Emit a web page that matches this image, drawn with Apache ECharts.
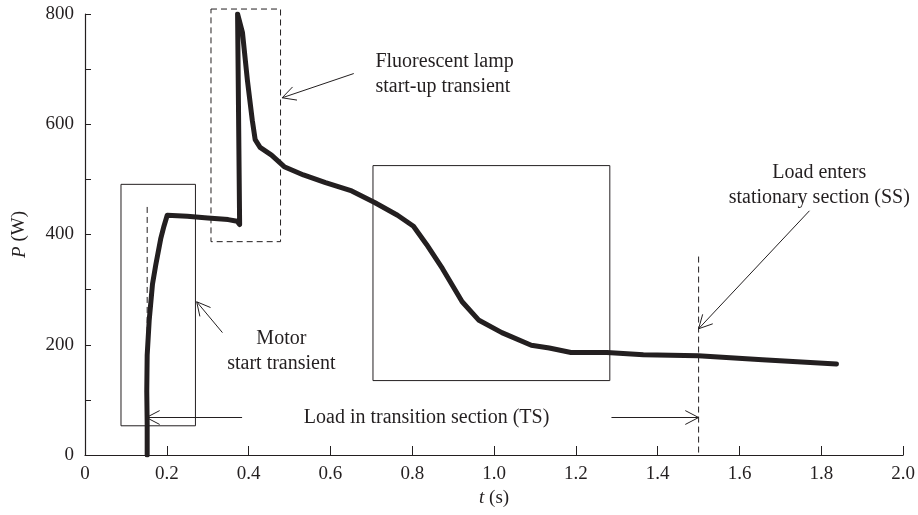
<!DOCTYPE html>
<html>
<head>
<meta charset="utf-8">
<script src="https://cdn.jsdelivr.net/npm/echarts@6.0.0/dist/echarts.min.js"></script>
<style>
  html, body { margin: 0; padding: 0; background: #fff; }
  #main { width: 918px; height: 515px; }
</style>
</head>
<body>
<div id="main"></div>
<script>
// time (s) and power (W)
var tData = [0.152, 0.152, 0.151, 0.152, 0.157, 0.165, 0.173, 0.185, 0.193, 0.201,
             0.25, 0.30, 0.35, 0.372, 0.378, 0.373, 0.385, 0.397, 0.409, 0.416,
             0.428, 0.456, 0.487, 0.534, 0.588, 0.652, 0.708, 0.764, 0.803, 0.835,
             0.874, 0.922, 0.962, 1.019, 1.091, 1.135, 1.188, 1.276, 1.365, 1.499,
             1.656, 1.837];
var pData = [0, 56, 115, 181, 245, 310, 345, 392, 415, 435,
             433, 430, 427, 424, 418, 800, 766, 680, 607, 572,
             558, 544, 523, 508, 494, 479, 458, 435, 415, 382,
             338, 278, 245, 222, 199, 194, 186, 186, 182, 180,
             173, 165];

// annotation boxes [t1, p1, t2, p2] and dashed markers [t, pTop, pBottom]
var motorBox = [0.088, 491, 0.270, 53];
var lampBox = [0.308, 809, 0.478, 387];
var slopeBox = [0.704, 525, 1.283, 135];
var startLine = [0.152, 450, 0];
var ssLine = [1.5, 360, 0];

var ink = '#231f20';
var serif = '"Liberation Serif", "DejaVu Serif", serif';

var points = [];
for (var i = 0; i < tData.length; i++) points.push([tData[i], pData[i]]);

var chart = echarts.init(document.getElementById('main'));

chart.setOption({
  animation: false,
  backgroundColor: '#fff',
  grid: { left: 85, right: 13, top: 14, bottom: 60 },
  xAxis: {
    type: 'value', min: 0, max: 2, interval: 0.2,
    name: '{i|t} (s)', nameLocation: 'middle', nameGap: 30,
    nameTextStyle: { fontFamily: serif, fontSize: 19, color: ink,
      rich: { i: { fontFamily: serif, fontSize: 19, fontStyle: 'italic', color: ink } } },
    axisLine: { lineStyle: { color: ink, width: 1.2 } },
    axisTick: { inside: true, length: 9, lineStyle: { color: ink } },
    axisLabel: { margin: 10, fontFamily: serif, fontSize: 19, color: ink,
      formatter: function (v) { return v === 0 ? '0' : v.toFixed(1); } },
    splitLine: { show: false }
  },
  yAxis: {
    type: 'value', min: 0, max: 800, interval: 200,
    name: '{i|P} (W)', nameLocation: 'middle', nameGap: 56,
    nameTextStyle: { fontFamily: serif, fontSize: 19, color: ink,
      rich: { i: { fontFamily: serif, fontSize: 19, fontStyle: 'italic', color: ink } } },
    axisLine: { show: true, lineStyle: { color: ink, width: 1.2 } },
    axisTick: { show: true, inside: true, length: 6, lineStyle: { color: ink } },
    minorTick: { show: true, splitNumber: 2, length: 6, lineStyle: { color: ink } },
    axisLabel: { margin: 11, fontFamily: serif, fontSize: 19, color: ink },
    splitLine: { show: false }
  },
  series: [{
    type: 'line',
    data: points,
    showSymbol: false,
    smooth: false,
    lineStyle: { color: ink, width: 5, join: 'round', cap: 'round' },
    z: 5
  }]
});

function px(t, p) { return chart.convertToPixel('grid', [t, p]); }

function box(b, dashed) {
  var a = px(b[0], b[1]), c = px(b[2], b[3]);
  return {
    type: 'rect',
    shape: { x: a[0], y: a[1], width: c[0] - a[0], height: c[1] - a[1] },
    style: { fill: null, stroke: ink, lineWidth: 1, lineDash: dashed ? [6, 4] : null }
  };
}

function vline(l) {
  var a = px(l[0], l[1]), b = px(l[0], l[2]);
  return {
    type: 'line',
    shape: { x1: a[0], y1: a[1], x2: b[0], y2: b[1] },
    style: { stroke: ink, lineWidth: 1, lineDash: [6, 4] }
  };
}

function arrow(from, to) {
  var a = px(from[0], from[1]), b = px(to[0], to[1]);
  var ang = Math.atan2(a[1] - b[1], a[0] - b[0]);
  var len = 15, sp = 0.48;
  var h1 = [b[0] + len * Math.cos(ang + sp), b[1] + len * Math.sin(ang + sp)];
  var h2 = [b[0] + len * Math.cos(ang - sp), b[1] + len * Math.sin(ang - sp)];
  return [
    { type: 'line', shape: { x1: a[0], y1: a[1], x2: b[0], y2: b[1] },
      style: { stroke: ink, lineWidth: 1 } },
    { type: 'polyline', shape: { points: [h1, b, h2] },
      style: { stroke: ink, lineWidth: 1, fill: null } }
  ];
}

function label(t, p, txt, align) {
  var a = px(t, p);
  return {
    type: 'text', x: a[0], y: a[1],
    style: { text: txt, fill: ink, font: '20px ' + serif,
      align: align || 'center', verticalAlign: 'middle', lineHeight: 25 }
  };
}

var g = [
  box(motorBox, false), box(lampBox, true), box(slopeBox, false),
  vline(startLine), vline(ssLine),
  label(0.71, 690, 'Fluorescent lamp\nstart-up transient', 'left'),
  label(0.48, 188, 'Motor\nstart transient'),
  label(0.835, 68, 'Load in transition section (TS)'),
  label(1.795, 490, 'Load enters\nstationary section (SS)')
];
g = g.concat(arrow([0.384, 68], [0.150, 68]));
g = g.concat(arrow([1.287, 68], [1.5, 68]));
g = g.concat(arrow([0.336, 222], [0.273, 278]));
g = g.concat(arrow([0.657, 692], [0.482, 648]));
g = g.concat(arrow([1.771, 443], [1.5, 229]));

chart.setOption({ graphic: g });
</script>
</body>
</html>
